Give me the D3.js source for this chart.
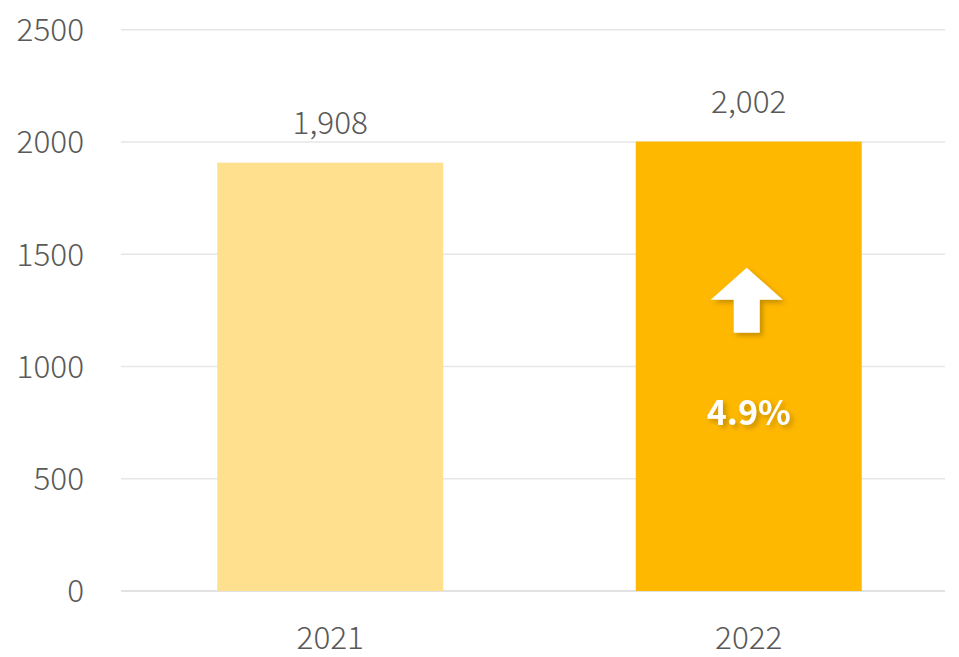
<!DOCTYPE html>
<html>
<head>
<meta charset="utf-8">
<script src="https://cdn.jsdelivr.net/npm/d3@7"></script>
<style>
  body { margin: 0; background: #fff; }
  svg { display: block; font-family: "Noto Sans CJK KR", "Noto Sans", sans-serif; }
</style>
</head>
<body>
<script>
  var width = 959;
  var height = 657;

  // data
  var years = ['2021', '2022'];
  var values = [1908, 2002];
  var valueLabels = ['1,908', '2,002'];
  var barColors = ['#FFE08F', '#FFB800'];
  var yTicks = [0, 500, 1000, 1500, 2000, 2500];
  var growthLabel = '4.9%';

  var svg = d3.select('body').append('svg')
    .attr('width', width)
    .attr('height', height);

  // scales
  var xScale = d3.scaleBand()
    .domain(years)
    .range([121, 958])
    .paddingInner(0.46)
    .paddingOuter(0.23);
  var yScale = d3.scaleLinear()
    .domain([0, 2500])
    .range([591, 29.75]);

  // gridlines
  svg.append('g').selectAll('line')
    .data(yTicks)
    .enter().append('line')
    .attr('x1', 121)
    .attr('x2', 945)
    .attr('y1', d => yScale(d))
    .attr('y2', d => yScale(d))
    .attr('stroke', d => d === 0 ? '#d9d9d9' : '#e6e6e6')
    .attr('stroke-width', 1.3);

  // y axis labels
  svg.append('g').selectAll('text')
    .data(yTicks)
    .enter().append('text')
    .attr('x', 84)
    .attr('y', d => yScale(d))
    .attr('dy', '0.36em')
    .attr('text-anchor', 'end')
    .attr('font-size', 31.5)
    .attr('font-weight', 300)
    .attr('fill', '#595959')
    .text(d => d);

  var data = years.map((y, i) => ({year: y, value: values[i], label: valueLabels[i], color: barColors[i]}));

  // bars
  svg.append('g').selectAll('rect')
    .data(data)
    .enter().append('rect')
    .attr('x', d => xScale(d.year))
    .attr('width', xScale.bandwidth())
    .attr('y', d => yScale(d.value))
    .attr('height', d => yScale(0) - yScale(d.value))
    .attr('fill', d => d.color);

  // value labels
  svg.append('g').selectAll('text')
    .data(data)
    .enter().append('text')
    .attr('x', d => xScale(d.year) + xScale.bandwidth() / 2)
    .attr('y', d => yScale(d.value) - 29)
    .attr('text-anchor', 'middle')
    .attr('font-size', 31.5)
    .attr('font-weight', 300)
    .attr('fill', '#595959')
    .text(d => d.label);

  // x axis labels
  svg.append('g').selectAll('text')
    .data(years)
    .enter().append('text')
    .attr('x', d => xScale(d) + xScale.bandwidth() / 2)
    .attr('y', 649)
    .attr('text-anchor', 'middle')
    .attr('font-size', 31.5)
    .attr('font-weight', 300)
    .attr('fill', '#595959')
    .text(d => d);

  // growth arrow
  var defs = svg.append('defs');
  var f = defs.append('filter').attr('id', 'shadow')
    .attr('x', '-30%').attr('y', '-30%').attr('width', '170%').attr('height', '170%');
  f.append('feDropShadow')
    .attr('dx', 3).attr('dy', 3).attr('stdDeviation', 2.5)
    .attr('flood-color', '#7a5a00').attr('flood-opacity', 0.45);

  var cx = xScale('2022') + xScale.bandwidth() / 2 - 2;
  var arrowTop = yScale(1440);
  var arrow = d3.path();
  arrow.moveTo(cx, arrowTop);
  arrow.lineTo(cx + 36, arrowTop + 32);
  arrow.lineTo(cx + 13, arrowTop + 32);
  arrow.lineTo(cx + 13, arrowTop + 65);
  arrow.lineTo(cx - 13, arrowTop + 65);
  arrow.lineTo(cx - 13, arrowTop + 32);
  arrow.lineTo(cx - 36, arrowTop + 32);
  arrow.closePath();
  svg.append('path')
    .attr('d', arrow.toString())
    .attr('fill', '#fff')
    .attr('filter', 'url(#shadow)');

  svg.append('text')
    .attr('x', cx + 2)
    .attr('y', yScale(740))
    .attr('text-anchor', 'middle')
    .attr('font-size', 34)
    .attr('font-weight', 'bold')
    .attr('fill', '#fff')
    .attr('filter', 'url(#shadow)')
    .text(growthLabel);
</script>
</body>
</html>
